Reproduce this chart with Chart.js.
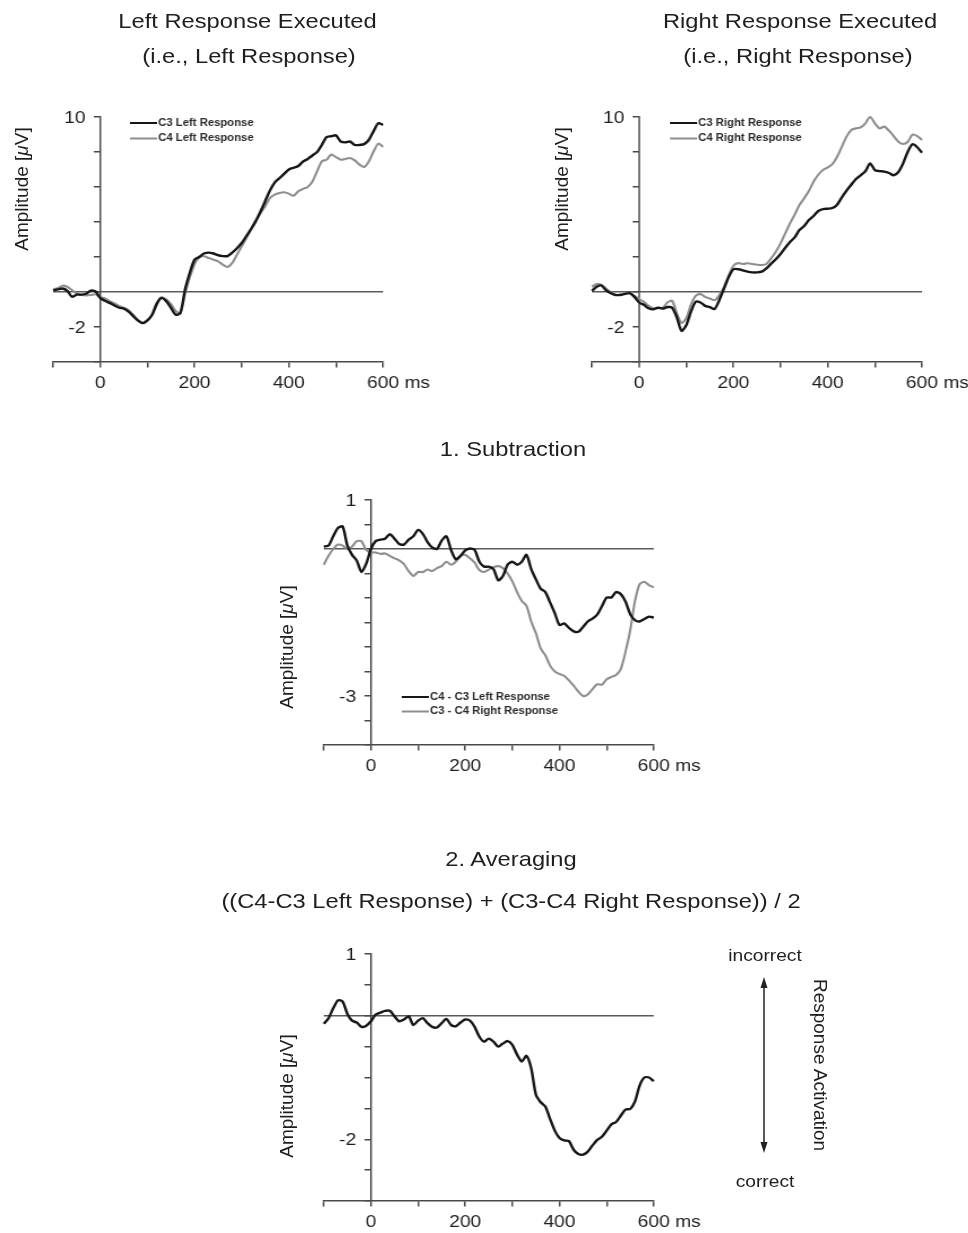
<!DOCTYPE html>
<html>
<head>
<meta charset="utf-8">
<title>Lateralized readiness potential</title>
<script src="https://cdn.jsdelivr.net/npm/chart.js@4"></script>
<style>
  html, body { margin: 0; padding: 0; background: #fff; }
  #page { position: relative; width: 968px; height: 1233px; overflow: hidden; }
  .panel { position: absolute; transform-origin: 0 0; transform: scaleX(1.13); }
  #labels { position: absolute; left: 0; top: 0; pointer-events: none; }
  #labels text { font-family: "Liberation Sans", Arial, sans-serif; fill: #1e1e1e; }
</style>
</head>
<body>
<div id="page">
  <div class="panel" style="left:0px;top:90px"><canvas id="leftResp" width="390" height="320"></canvas></div>
  <div class="panel" style="left:540px;top:90px"><canvas id="rightResp" width="379" height="320"></canvas></div>
  <div class="panel" style="left:230px;top:470px"><canvas id="subtraction" width="443" height="320"></canvas></div>
  <div class="panel" style="left:230px;top:930px"><canvas id="averaging" width="443" height="303"></canvas></div>

  <svg id="labels" width="968" height="1233">
    <text transform="translate(247.5 28) scale(1.13 1)" text-anchor="middle" font-size="21">Left Response Executed</text>
    <text transform="translate(249 63) scale(1.13 1)" text-anchor="middle" font-size="21">(i.e., Left Response)</text>
    <text transform="translate(800 28) scale(1.13 1)" text-anchor="middle" font-size="21">Right Response Executed</text>
    <text transform="translate(798 63) scale(1.13 1)" text-anchor="middle" font-size="21">(i.e., Right Response)</text>
    <text transform="translate(513 456) scale(1.13 1)" text-anchor="middle" font-size="21">1. Subtraction</text>
    <text transform="translate(511 866) scale(1.13 1)" text-anchor="middle" font-size="21">2. Averaging</text>
    <text transform="translate(511 908) scale(1.13 1)" text-anchor="middle" font-size="21">((C4-C3 Left Response) + (C3-C4 Right Response)) / 2</text>

    <text transform="translate(27.5 189) rotate(-90)" text-anchor="middle" font-size="19">Amplitude [<tspan font-style="italic">μ</tspan>V]</text>
    <text transform="translate(567.5 189) rotate(-90)" text-anchor="middle" font-size="19">Amplitude [<tspan font-style="italic">μ</tspan>V]</text>
    <text transform="translate(292.5 647) rotate(-90)" text-anchor="middle" font-size="19">Amplitude [<tspan font-style="italic">μ</tspan>V]</text>
    <text transform="translate(292.5 1096) rotate(-90)" text-anchor="middle" font-size="19">Amplitude [<tspan font-style="italic">μ</tspan>V]</text>

    <text transform="translate(765 961) scale(1.13 1)" text-anchor="middle" font-size="17">incorrect</text>
    <text transform="translate(765 1187) scale(1.13 1)" text-anchor="middle" font-size="17">correct</text>
    <text transform="translate(813.5 1065) rotate(90)" text-anchor="middle" font-size="19">Response Activation</text>
    <line x1="764" y1="984" x2="764" y2="1146" stroke="#222" stroke-width="1.5"/>
    <path d="M764 977 L760.5 988 L767.5 988 Z" fill="#222"/>
    <path d="M764 1153 L760.5 1142 L767.5 1142 Z" fill="#222"/>
  </svg>
</div>

<script>
// time axis (ms relative to stimulus onset)
const times = [
  -100, -90, -80, -70, -60, -50, -40, -30, -20, -10,
  0, 10, 20, 30, 40, 50, 60, 70, 80, 90,
  100, 110, 120, 130, 140, 150, 160, 170, 180, 190,
  200, 210, 220, 230, 240, 250, 260, 270, 280, 290,
  300, 310, 320, 330, 340, 350, 360, 370, 380, 390,
  400, 410, 420, 430, 440, 450, 460, 470, 480, 490,
  500, 510, 520, 530, 540, 550, 560, 570, 580, 590,
  600
];

// left response trials, µV
const c3Left = [
  0.09, 0.15, 0.20, 0.07, -0.27, -0.15, -0.15, -0.10, 0.08, 0.04,
  -0.35, -0.50, -0.62, -0.77, -0.90, -0.95, -1.12, -1.38, -1.64, -1.78,
  -1.62, -1.30, -0.65, -0.34, -0.52, -0.90, -1.30, -1.20, 0.15, 1.10,
  1.85, 2.00, 2.20, 2.25, 2.20, 2.10, 2.05, 2.05, 2.25, 2.50,
  2.80, 3.20, 3.60, 4.05, 4.60, 5.20, 5.80, 6.25, 6.50, 6.75,
  7.00, 7.10, 7.20, 7.45, 7.60, 7.80, 8.00, 8.40, 8.85, 8.90,
  8.95, 8.60, 8.55, 8.60, 8.40, 8.40, 8.45, 8.70, 9.20, 9.65,
  9.55
];
const c4Left = [
  0.15, 0.22, 0.36, 0.30, 0.11, -0.09, -0.17, -0.19, -0.17, -0.13,
  -0.30, -0.37, -0.52, -0.65, -0.79, -0.90, -1.05, -1.31, -1.59, -1.76,
  -1.64, -1.31, -0.75, -0.30, -0.43, -0.69, -1.08, -1.20, -0.09, 0.84,
  1.60, 2.00, 2.04, 1.94, 1.85, 1.75, 1.56, 1.43, 1.66, 2.13,
  2.61, 3.09, 3.60, 4.10, 4.51, 4.90, 5.37, 5.56, 5.66, 5.70,
  5.62, 5.50, 5.75, 5.89, 6.00, 6.32, 6.90, 7.47, 7.56, 7.85,
  7.71, 7.56, 7.60, 7.66, 7.52, 7.28, 7.14, 7.47, 8.04, 8.48,
  8.29
];

// right response trials, µV
const c3Right = [
  0.07, 0.30, 0.37, 0.09, -0.07, -0.17, -0.17, -0.11, -0.07, -0.28,
  -0.60, -0.73, -0.93, -0.99, -0.90, -0.95, -0.86, -0.90, -1.45, -2.22,
  -1.90, -1.12, -0.56, -0.60, -0.79, -0.86, -0.97, -0.47, 0.19, 0.85,
  1.30, 1.30, 1.24, 1.16, 1.12, 1.12, 1.16, 1.35, 1.62, 1.87,
  2.17, 2.53, 2.86, 3.12, 3.54, 3.77, 4.11, 4.34, 4.63, 4.74,
  4.76, 4.80, 4.99, 5.41, 5.79, 6.13, 6.46, 6.67, 6.90, 7.35,
  6.97, 6.91, 6.88, 6.80, 6.67, 6.86, 7.35, 8.02, 8.44, 8.27,
  7.96
];
const c4Right = [
  0.30, 0.45, 0.41, 0.19, 0.00, -0.17, -0.15, -0.09, -0.06, -0.22,
  -0.41, -0.56, -0.79, -0.93, -0.90, -0.90, -0.60, -0.50, -1.21, -1.78,
  -1.50, -0.71, -0.22, -0.11, -0.28, -0.37, -0.47, -0.19, 0.28, 0.95,
  1.50, 1.65, 1.60, 1.64, 1.60, 1.56, 1.54, 1.60, 1.92, 2.30,
  2.78, 3.35, 3.92, 4.42, 4.97, 5.35, 5.77, 6.30, 6.70, 6.97,
  7.12, 7.31, 7.73, 8.30, 8.88, 9.26, 9.35, 9.41, 9.64, 10.00,
  9.64, 9.35, 9.45, 9.22, 8.91, 8.59, 8.46, 8.59, 8.99, 8.91,
  8.69
];

// step 1: contralateral minus ipsilateral
const diffLeft = [
  0.05, 0.07, 0.26, 0.43, 0.46, 0.07, -0.12, -0.24, -0.47, -0.30,
  0.00, 0.16, 0.19, 0.21, 0.30, 0.21, 0.10, 0.09, 0.19, 0.26,
  0.39, 0.31, 0.14, 0.03, 0.00, 0.17, 0.26, -0.02, -0.21, -0.14,
  -0.03, 0.01, -0.02, -0.26, -0.36, -0.36, -0.41, -0.64, -0.55, -0.32,
  -0.26, -0.32, -0.26, -0.12, -0.41, -0.62, -0.81, -0.88, -1.09, -1.31,
  -1.55, -1.52, -1.61, -1.68, -1.69, -1.59, -1.48, -1.42, -1.34, -1.17,
  -0.99, -0.99, -0.88, -0.92, -1.07, -1.33, -1.45, -1.48, -1.43, -1.38,
  -1.40
];
const diffRight = [
  -0.32, -0.14, 0.00, 0.09, 0.07, 0.00, 0.05, 0.16, 0.16, -0.02,
  -0.07, -0.07, -0.10, -0.09, -0.14, -0.19, -0.23, -0.31, -0.45, -0.55,
  -0.47, -0.47, -0.42, -0.45, -0.39, -0.35, -0.26, -0.32, -0.26, -0.14,
  -0.12, -0.19, -0.28, -0.43, -0.47, -0.42, -0.37, -0.35, -0.39, -0.50,
  -0.66, -0.88, -1.06, -1.16, -1.48, -1.72, -2.03, -2.17, -2.38, -2.50,
  -2.55, -2.59, -2.68, -2.79, -2.91, -3.00, -2.97, -2.86, -2.76, -2.77,
  -2.66, -2.61, -2.57, -2.45, -2.10, -1.66, -1.07, -0.72, -0.67, -0.74,
  -0.78
];

// step 2: averaged LRP
const lrpAverage = [
  -0.13, -0.04, 0.12, 0.25, 0.23, 0.03, -0.08, -0.11, -0.18, -0.16,
  -0.09, 0.02, 0.05, 0.08, 0.08, -0.01, -0.09, -0.06, -0.01, -0.15,
  -0.08, -0.04, -0.12, -0.18, -0.19, -0.12, -0.05, -0.15, -0.17, -0.11,
  -0.06, -0.08, -0.18, -0.34, -0.42, -0.37, -0.42, -0.50, -0.45, -0.41,
  -0.47, -0.63, -0.74, -0.65, -0.85, -1.28, -1.40, -1.47, -1.67, -1.86,
  -1.98, -2.02, -2.03, -2.17, -2.24, -2.25, -2.20, -2.10, -2.01, -1.96,
  -1.86, -1.76, -1.72, -1.62, -1.52, -1.51, -1.39, -1.13, -1.00, -1.00,
  -1.06
];

const xTickLabels = [0, 200, 400, 600];
const topYLabels = [10, -2];
const subYLabels = [1, -3];
const avgYLabels = [1, -2];

const BLACK = '#161616';
const GRAY = '#8e8e8e';
const AXIS = '#4a4a4a';
const TEXT = '#1e1e1e';
const FONT = '"Liberation Sans", Arial, sans-serif';

// y labels sit left of the axis at x = 0, plus the "ms" unit and the in-plot legend
const axisExtras = {
  id: 'axisExtras',
  afterDraw(chart, args, opts) {
    const ctx = chart.ctx;
    const xs = chart.scales.x;
    const ys = chart.scales.y;

    ctx.save();
    ctx.font = '17px ' + FONT;
    ctx.fillStyle = TEXT;
    ctx.textAlign = 'right';
    ctx.textBaseline = 'middle';
    const axisX = xs.getPixelForValue(0);
    (opts.yLabels || []).forEach(v => {
      ctx.fillText(String(v), axisX - 13, ys.getPixelForValue(v) + 1);
    });
    ctx.restore();

    const item = xs.getLabelItems().find(it => it.label === '600');
    if (item) {
      ctx.save();
      ctx.font = item.font.string;
      ctx.fillStyle = TEXT;
      ctx.textAlign = 'left';
      ctx.textBaseline = item.options.textBaseline;
      const [tx, ty] = item.options.translation;
      ctx.fillText(' ms', tx + ctx.measureText('600').width / 2, ty + item.textOffset);
      ctx.restore();
    }

    if (opts.legend) {
      const { left, top } = chart.chartArea;
      ctx.save();
      ctx.font = 'bold 10px ' + FONT;
      ctx.textBaseline = 'middle';
      chart.data.datasets.forEach((ds, i) => {
        const x = left + opts.legend.dx;
        const y = top + opts.legend.dy + i * opts.legend.gap;
        ctx.strokeStyle = ds.borderColor;
        ctx.lineWidth = 2;
        ctx.beginPath();
        ctx.moveTo(x, y);
        ctx.lineTo(x + 24, y);
        ctx.stroke();
        ctx.fillStyle = '#2a2a2a';
        ctx.fillText(ds.label, x + 25, y);
      });
      ctx.restore();
    }
  }
};

function hasLabel(list, v) {
  return list.some(l => Math.abs(l - v) < 1e-6);
}

function erpChart(id, cfg) {
  return new Chart(document.getElementById(id), {
    type: 'line',
    data: {
      datasets: cfg.series.map(s => ({
        label: s.label,
        data: times.map((t, i) => ({ x: t, y: s.values[i] })),
        borderColor: s.color,
        borderWidth: s.color === BLACK ? 2.4 : 2.1,
        pointRadius: 0,
        tension: 0.25,
        clip: false
      }))
    },
    options: {
      responsive: false,
      animation: false,
      events: [],
      layout: { padding: cfg.padding },
      plugins: {
        legend: { display: false },
        tooltip: { enabled: false },
        axisExtras: { legend: cfg.legend, yLabels: cfg.yLabels }
      },
      scales: {
        x: {
          type: 'linear',
          min: -100,
          max: 600,
          position: { y: cfg.yMin },
          border: { color: AXIS, width: 1.5 },
          grid: { drawOnChartArea: false, tickColor: AXIS, tickLength: 5, lineWidth: 1.5 },
          ticks: {
            stepSize: 100,
            autoSkip: false,
            maxRotation: 0,
            padding: 6,
            color: TEXT,
            font: { family: FONT, size: 17 },
            callback: v => hasLabel(xTickLabels, v) ? String(v) : ''
          }
        },
        y: {
          min: cfg.yMin,
          max: cfg.yMax,
          position: { x: 0 },
          border: { color: AXIS, width: 1.5 },
          grid: {
            color: c => (c.tick && Math.abs(c.tick.value) < 1e-6) ? '#5a5a5a' : 'rgba(0,0,0,0)',
            lineWidth: 1.5,
            tickColor: AXIS,
            tickLength: 5
          },
          ticks: {
            stepSize: cfg.yStep,
            autoSkip: false,
            color: TEXT,
            font: { family: FONT, size: 17 },
            // labels are drawn by axisExtras; keep the tick marks
            callback: () => ''
          }
        }
      }
    },
    plugins: [axisExtras]
  });
}

erpChart('leftResp', {
  yMin: -4, yMax: 10, yStep: 2, yLabels: topYLabels,
  padding: { left: 47, right: 51, top: 27, bottom: 48 },
  legend: { dx: 68, dy: 6, gap: 15.5 },
  series: [
    { label: 'C3 Left Response', values: c3Left, color: BLACK },
    { label: 'C4 Left Response', values: c4Left, color: GRAY }
  ]
});

erpChart('rightResp', {
  yMin: -4, yMax: 10, yStep: 2, yLabels: topYLabels,
  padding: { left: 46, right: 41, top: 27, bottom: 48 },
  legend: { dx: 69, dy: 6, gap: 15.5 },
  series: [
    { label: 'C3 Right Response', values: c3Right, color: BLACK },
    { label: 'C4 Right Response', values: c4Right, color: GRAY }
  ]
});

erpChart('subtraction', {
  yMin: -4, yMax: 1, yStep: 0.5, yLabels: subYLabels,
  padding: { left: 83, right: 68, top: 30, bottom: 45 },
  legend: { dx: 69, dy: 197, gap: 14.5 },
  series: [
    { label: 'C4 - C3 Left Response', values: diffLeft, color: BLACK },
    { label: 'C3 - C4 Right Response', values: diffRight, color: GRAY }
  ]
});

erpChart('averaging', {
  yMin: -3, yMax: 1, yStep: 0.5, yLabels: avgYLabels,
  padding: { left: 83, right: 68, top: 24, bottom: 32 },
  series: [
    { label: 'LRP', values: lrpAverage, color: BLACK }
  ]
});
</script>
</body>
</html>
